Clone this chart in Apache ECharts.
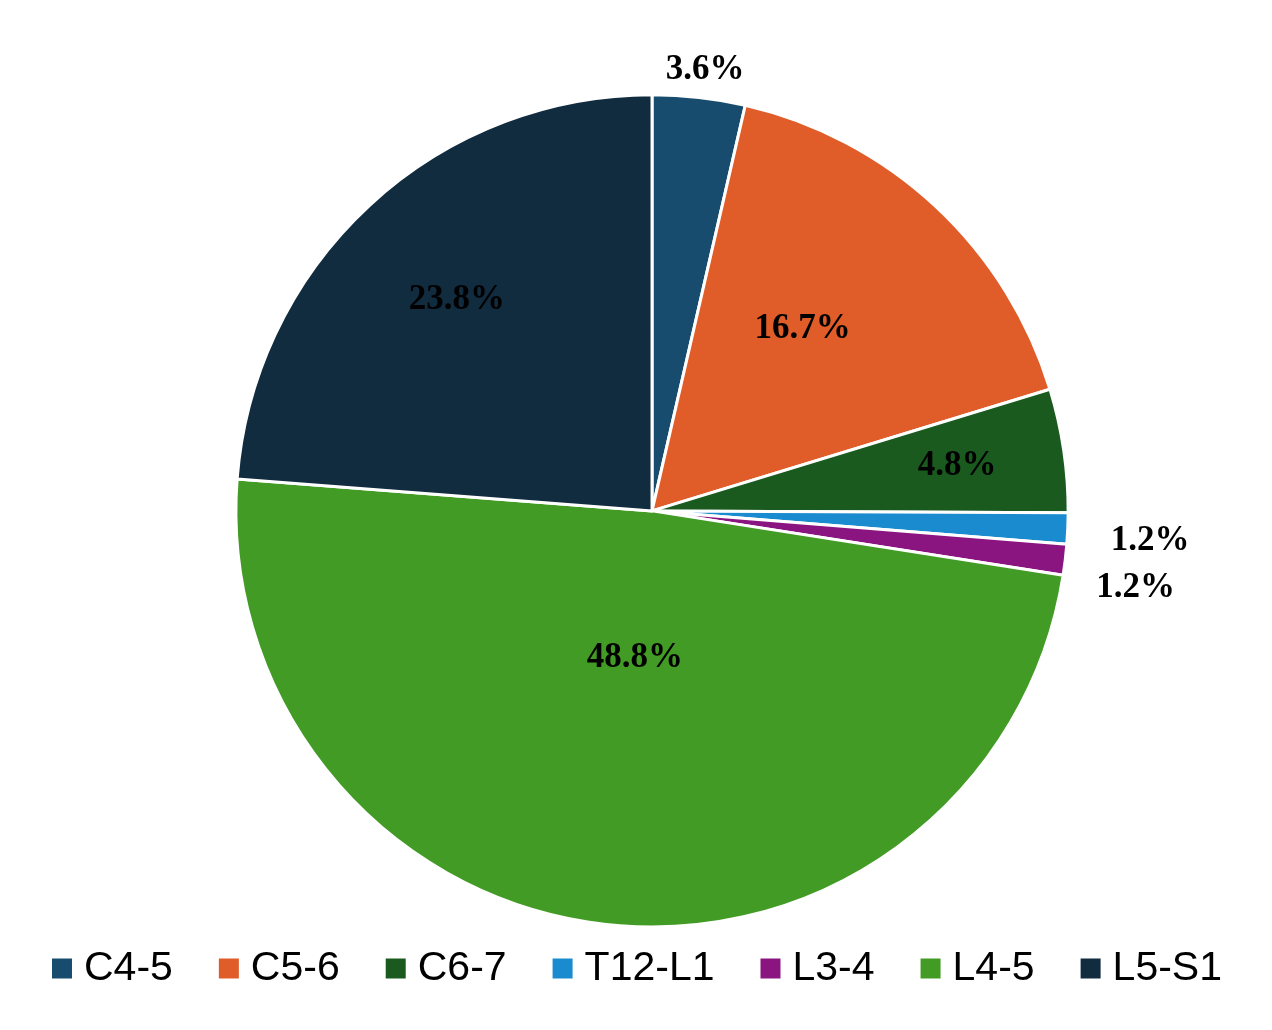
<!DOCTYPE html>
<html>
<head>
<meta charset="utf-8">
<script src="https://cdn.jsdelivr.net/npm/echarts@6/dist/echarts.min.js"></script>
<style>
html,body{margin:0;padding:0;background:#fff;}
#main{width:1272px;height:1030px;}
</style>
</head>
<body>
<div id="main"></div>
<script>
const categories = ['C4-5', 'C5-6', 'C6-7', 'T12-L1', 'L3-4', 'L4-5', 'L5-S1'];
const percentValues = [3.6, 16.7, 4.8, 1.2, 1.2, 48.8, 23.8];
const colors = ['#174c6f', '#e05c28', '#1a5a1e', '#1a8bcf', '#8b1580', '#429b25', '#112b3f'];
// label placement style: radial fraction of radius and angular nudge (deg) per slice
const labelRadial = [1.068, 0.567, 0.741, 1.199, 1.177, 0.357, 0.69];
const labelAngleShift = [0.4, -3.3, 0, 1.0, 2.3, 0, 0];

const CENTER = [0.5126, 0.496];
const RADIUS = 0.808;

const chart = echarts.init(document.getElementById('main'));
const total = percentValues.reduce((a, b) => a + b, 0);

function labelLayout(params) {
  const i = params.dataIndex;
  let before = 0;
  for (let k = 0; k < i; k++) before += percentValues[k];
  const mid = (before + percentValues[i] / 2) / total * Math.PI * 2 + labelAngleShift[i] * Math.PI / 180;
  const w = chart.getWidth(), h = chart.getHeight();
  const cx = CENTER[0] * w, cy = CENTER[1] * h;
  const r = RADIUS * Math.min(w, h) / 2;
  const f = labelRadial[i];
  return {
    x: cx + f * r * Math.sin(mid),
    y: cy - f * r * Math.cos(mid),
    align: 'center',
    verticalAlign: 'middle'
  };
}

chart.setOption({
  animation: false,
  color: colors,
  legend: {
    bottom: 36,
    left: 'center',
    itemWidth: 22,
    itemHeight: 22,
    itemGap: 44,
    icon: 'rect',
    textStyle: { fontFamily: 'Liberation Sans', fontSize: 41, color: '#000', padding: [0, 0, 0, 6] },
    data: categories
  },
  series: [{
    type: 'pie',
    center: [(CENTER[0] * 100) + '%', (CENTER[1] * 100) + '%'],
    radius: (RADIUS * 100) + '%',
    startAngle: 90,
    clockwise: true,
    avoidLabelOverlap: false,
    itemStyle: { borderColor: '#fff', borderWidth: 3 },
    label: {
      show: true,
      position: 'inside',
      formatter: '{c}%',
      color: '#000',
      fontFamily: 'Liberation Serif',
      fontWeight: 'bold',
      fontSize: 35
    },
    labelLine: { show: false },
    labelLayout: labelLayout,
    emphasis: { disabled: true },
    data: categories.map((n, i) => ({ name: n, value: percentValues[i] }))
  }]
});
</script>
</body>
</html>
